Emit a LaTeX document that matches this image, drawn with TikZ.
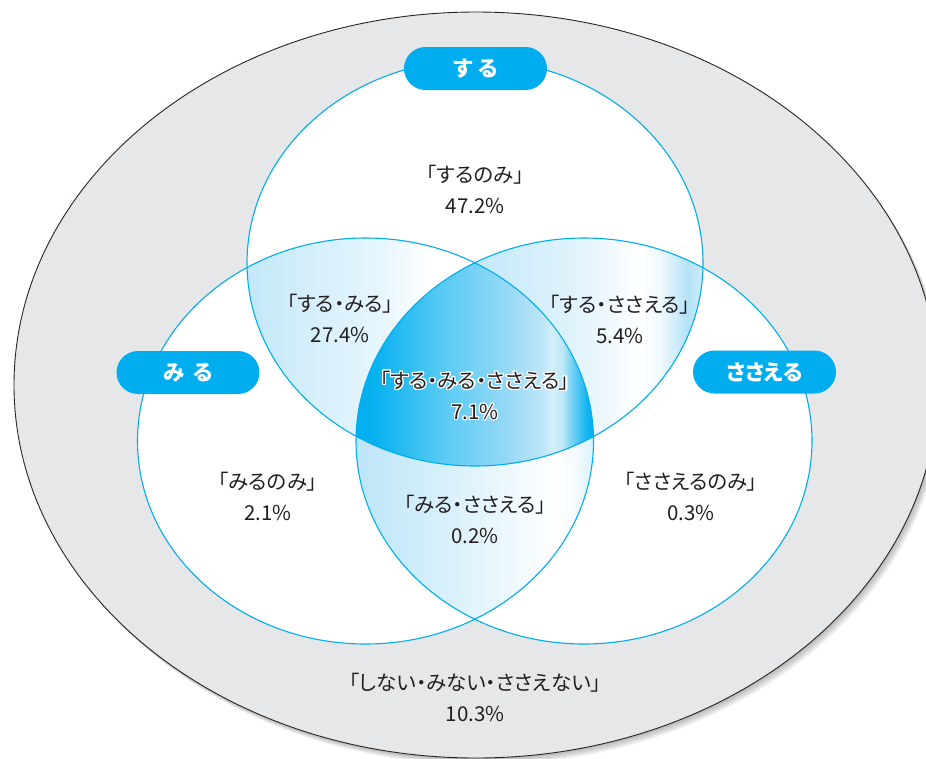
\documentclass[tikz,border=0pt]{standalone}
\usepackage{fontspec}
\setmainfont{Noto Sans CJK JP}[RawFeature=+palt]
\usepackage{contour}
\contourlength{1.2pt}
\usetikzlibrary{calc}
\definecolor{vcyan}{HTML}{00AEEF}
\definecolor{vgray}{HTML}{E6E7E8}
\definecolor{vtext}{HTML}{231F20}
% centre region colours
\definecolor{ca1}{HTML}{08B1EF}
\definecolor{ca2}{HTML}{55C9F3}
\definecolor{ca3}{HTML}{96D9F6}
\definecolor{ca4}{HTML}{BAE5F8}
\definecolor{ca5}{HTML}{D3EFFB}
\definecolor{ca6}{HTML}{C0E8F9}
\definecolor{ca7}{HTML}{6CCFF4}
\definecolor{ca8}{HTML}{10B4F0}
% top-left lens
\definecolor{cb1}{HTML}{C2E7F8}
\definecolor{cb2}{HTML}{D2EEFA}
\definecolor{cb3}{HTML}{E6F6FD}
% top-right lens
\definecolor{cc1}{HTML}{B8E4F8}
\definecolor{cc2}{HTML}{C4E8F9}
\definecolor{cc3}{HTML}{E2F4FC}
\definecolor{cc4}{HTML}{F0F9FE}
\definecolor{cc5}{HTML}{B3E2F7}
\definecolor{cc6}{HTML}{D0EEFA}
% bottom lens
\definecolor{cd1}{HTML}{BDE5F8}
\definecolor{cd2}{HTML}{D0EDFA}
\definecolor{cd3}{HTML}{E3F5FC}
\definecolor{cd4}{HTML}{F7FCFE}
\definecolor{cd5}{HTML}{F4FBFE}
\definecolor{cd6}{HTML}{D8F1FB}
\pgfdeclarehorizontalshading{shcenter}{100bp}{color(0bp)=(vcyan); color(25bp)=(vcyan); color(29bp)=(ca1); color(42.6bp)=(ca2); color(56.7bp)=(ca3); color(63.7bp)=(ca4); color(66.4bp)=(ca5); color(68.3bp)=(ca6); color(70.6bp)=(ca7); color(73.5bp)=(ca8); color(75bp)=(vcyan); color(100bp)=(vcyan)}
\pgfdeclarehorizontalshading{shtopleft}{100bp}{color(0bp)=(cb1); color(25bp)=(cb1); color(32.6bp)=(cb2); color(44.2bp)=(cb3); color(51.4bp)=(white); color(75bp)=(white); color(100bp)=(white)}
\pgfdeclarehorizontalshading{shtopright}{100bp}{color(0bp)=(cc1); color(25bp)=(cc1); color(42.1bp)=(cc2); color(57.3bp)=(cc3); color(65.9bp)=(white); color(68.8bp)=(cc4); color(72.8bp)=(cc5); color(75bp)=(cc6); color(100bp)=(cc6)}
\pgfdeclarehorizontalshading{shbottom}{100bp}{color(0bp)=(cd1); color(25bp)=(cd1); color(38.4bp)=(cd2); color(51.1bp)=(cd3); color(62.6bp)=(cd4); color(66.8bp)=(white); color(71bp)=(cd5); color(75bp)=(cd6); color(100bp)=(cd6)}
\tikzset{
  ring/.style={draw=vcyan, line width=1.1pt},
  pill/.style={fill=vcyan, text=white, font=\fontsize{21.5pt}{25pt}\selectfont\bfseries,
    minimum width=143pt, minimum height=43pt, rounded corners=21.5pt, inner sep=0pt},
  lbl/.style={text=vtext, align=center, inner sep=0pt,
    font=\fontsize{20.5pt}{31pt}\selectfont},
}
\begin{document}
\begin{tikzpicture}[x=1pt, y=-1pt]
\useasboundingbox (0,0) rectangle (926,758);
\coordinate (cO) at (476,385);
\coordinate (cT) at (475,263);
\coordinate (cL) at (365.5,441);
\coordinate (cR) at (584,441);
% soft shadow of the outer ellipse
\foreach \k in {1,...,7}
  \fill[black, opacity=0.045] ($(cO)+(0.8*\k,1.0*\k)$) ellipse [x radius=462pt, y radius=373pt];
\filldraw[fill=vgray, draw=black!85, line width=0.9pt] (cO) ellipse [x radius=462pt, y radius=373pt];
% white circles
\fill[white] (cT) ellipse [x radius=228pt, y radius=203pt];
\fill[white] (cL) ellipse [x radius=228pt, y radius=203pt];
\fill[white] (cR) ellipse [x radius=228pt, y radius=203pt];
% top & left lens
\begin{scope}
  \clip (cT) ellipse [x radius=228pt, y radius=203pt];
  \clip (cL) ellipse [x radius=228pt, y radius=203pt];
  \shade[shading=shtopleft] (247,200) rectangle (594,500);
\end{scope}
% top & right lens
\begin{scope}
  \clip (cT) ellipse [x radius=228pt, y radius=203pt];
  \clip (cR) ellipse [x radius=228pt, y radius=203pt];
  \shade[shading=shtopright] (356,200) rectangle (703,500);
\end{scope}
% left & right lens
\begin{scope}
  \clip (cL) ellipse [x radius=228pt, y radius=203pt];
  \clip (cR) ellipse [x radius=228pt, y radius=203pt];
  \shade[shading=shbottom] (356,230) rectangle (594,650);
\end{scope}
% centre region
\begin{scope}
  \clip (cT) ellipse [x radius=228pt, y radius=203pt];
  \clip (cL) ellipse [x radius=228pt, y radius=203pt];
  \clip (cR) ellipse [x radius=228pt, y radius=203pt];
  \shade[shading=shcenter] (356,230) rectangle (594,500);
\end{scope}
% outlines
\draw[ring] (cT) ellipse [x radius=228pt, y radius=203pt];
\draw[ring] (cL) ellipse [x radius=228pt, y radius=203pt];
\draw[ring] (cR) ellipse [x radius=228pt, y radius=203pt];
% labels on pills
\node[pill] (psuru) at (475.5,68.5) {す\hspace{5pt}る};
\node[pill] (pmiru) at (188,372.5) {み\hspace{8pt}る};
\node[pill] (psasaeru) at (764.5,372) {ささえる};
% region texts
\node[lbl] (tsuru) at (475,189) {「するのみ」\\47.2\%};
\node[lbl] (tsurumiru) at (340,318) {「する・みる」\\27.4\%};
\node[lbl] (tsurusasaeru) at (620,319) {「する・ささえる」\\5.4\%};
\node[lbl] (tall) at (475,396) {\contour{white}{「する・みる・ささえる」}\\\contour{white}{7.1\%}};
\node[lbl] (tmiru) at (268,496) {「みるのみ」\\2.1\%};
\node[lbl] (tmirusasaeru) at (475,519) {「みる・ささえる」\\0.2\%};
\node[lbl] (tsasaeru) at (691,496) {「ささえるのみ」\\0.3\%};
\node[lbl] (tnone) at (475,697) {「しない・みない・ささえない」\\10.3\%};
\end{tikzpicture}
\end{document}
